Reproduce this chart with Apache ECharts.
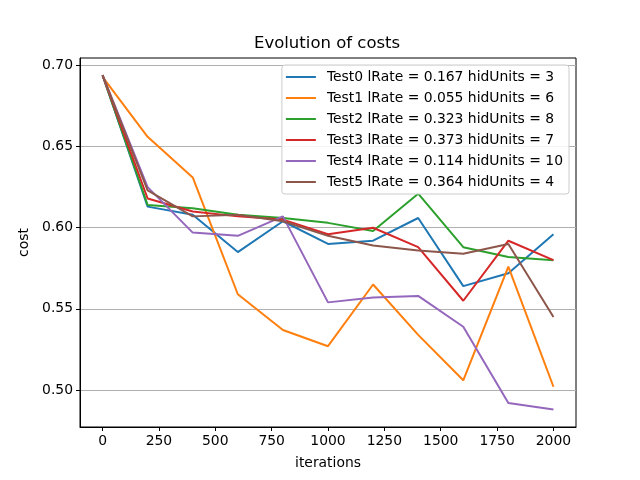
<!DOCTYPE html>
<html>
<head>
<meta charset="utf-8">
<title>Evolution of costs</title>
<script src="https://cdn.jsdelivr.net/npm/echarts@6/dist/echarts.min.js"></script>
<style>
    html, body { margin: 0; padding: 0; background: #fff; }
    #main { width: 640px; height: 480px; }
</style>
</head>
<body>
<div id="main"></div>
<script>
// iteration steps (x values)
var iterations = [0, 200, 400, 600, 800, 1000, 1200, 1400, 1600, 1800, 2000];

// legend names
var testNames = [
    'Test0 lRate = 0.167 hidUnits = 3',
    'Test1 lRate = 0.055 hidUnits = 6',
    'Test2 lRate = 0.323 hidUnits = 8',
    'Test3 lRate = 0.373 hidUnits = 7',
    'Test4 lRate = 0.114 hidUnits = 10',
    'Test5 lRate = 0.364 hidUnits = 4'
];

// cost per run
var test0 = [0.694, 0.613, 0.608, 0.585, 0.604, 0.590, 0.592, 0.606, 0.564, 0.572, 0.596];
var test1 = [0.693, 0.656, 0.631, 0.559, 0.537, 0.527, 0.565, 0.534, 0.506, 0.576, 0.502];
var test2 = [0.694, 0.614, 0.612, 0.608, 0.606, 0.603, 0.598, 0.621, 0.588, 0.582, 0.580];
var test3 = [0.694, 0.618, 0.610, 0.607, 0.605, 0.596, 0.600, 0.588, 0.555, 0.592, 0.580];
var test4 = [0.694, 0.625, 0.597, 0.595, 0.607, 0.554, 0.557, 0.558, 0.539, 0.492, 0.488];
var test5 = [0.694, 0.623, 0.607, 0.608, 0.604, 0.595, 0.589, 0.586, 0.584, 0.590, 0.545];

// tick labels
var xTicks = [0, 250, 500, 750, 1000, 1250, 1500, 1750, 2000];
var yTicks = [0.50, 0.55, 0.60, 0.65, 0.70];

var colors = ['#1f77b4', '#ff7f0e', '#2ca02c', '#d62728', '#9467bd', '#8c564b'];
var allTests = [test0, test1, test2, test3, test4, test5];

var font = 'DejaVu Sans';

// build the line series
var series = [];
for (var i = 0; i < allTests.length; i++) {
    var points = [];
    for (var j = 0; j < iterations.length; j++) {
        points.push([iterations[j], allTests[i][j]]);
    }
    series.push({
        name: testNames[i],
        type: 'line',
        data: points,
        showSymbol: false,
        symbol: 'none',
        lineStyle: { width: 2, color: colors[i] },
        itemStyle: { color: colors[i] }
    });
}

var chart = echarts.init(document.getElementById('main'), null, { renderer: 'canvas' });
var option = {
    animation: false,
    color: colors,
    title: {
        text: 'Evolution of costs',
        left: 254,
        top: 35,
        padding: 0,
        textStyle: { fontFamily: font, fontSize: 16.5, fontWeight: 'normal', color: '#000' }
    },
    legend: {
        orient: 'vertical',
        right: 71,
        top: 65,
        padding: [5, 6, 5, 4],
        data: testNames,
        icon: 'rect',
        itemWidth: 30,
        itemHeight: 2,
        itemGap: 7,
        backgroundColor: 'rgba(255,255,255,0.85)',
        borderColor: '#cccccc',
        borderWidth: 1,
        borderRadius: 3,
        textStyle: { fontFamily: font, fontSize: 13.9, color: '#000', lineHeight: 14, padding: [0, 0, 0, 6] }
    },
    grid: {
        left: 80,
        right: 64,
        top: 58,
        bottom: 53,
        show: true,
        borderColor: '#000',
        borderWidth: 1,
        backgroundColor: 'transparent'
    },
    xAxis: {
        type: 'value',
        min: -100,
        max: 2100,
        name: 'iterations',
        nameLocation: 'middle',
        nameGap: 29,
        nameTextStyle: { fontFamily: font, fontSize: 13.9, color: '#000' },
        axisLine: { show: true, onZero: false, lineStyle: { color: '#000', width: 1 } },
        axisTick: { show: true, inside: false, length: 4, customValues: xTicks, lineStyle: { color: '#000' } },
        axisLabel: {
            customValues: xTicks,
            margin: 7,
            fontFamily: font,
            fontSize: 13.9,
            color: '#000',
            formatter: function (v) { return String(v); }
        },
        splitLine: { show: false }
    },
    yAxis: {
        type: 'value',
        min: 0.4772,
        max: 0.7046,
        name: 'cost',
        nameLocation: 'middle',
        nameGap: 44,
        nameRotate: 90,
        nameTextStyle: { fontFamily: font, fontSize: 13.9, color: '#000' },
        axisLine: { show: true, onZero: false, lineStyle: { color: '#000', width: 1 } },
        axisTick: { show: true, inside: false, length: 4, customValues: yTicks, lineStyle: { color: '#000' } },
        axisLabel: {
            customValues: yTicks,
            margin: 7,
            fontFamily: font,
            fontSize: 13.9,
            color: '#000',
            formatter: function (v) { return v.toFixed(2); }
        },
        splitLine: { show: true, lineStyle: { color: '#b0b0b0', width: 1 } }
    },
    series: series
};
chart.setOption(option);
</script>
</body>
</html>
